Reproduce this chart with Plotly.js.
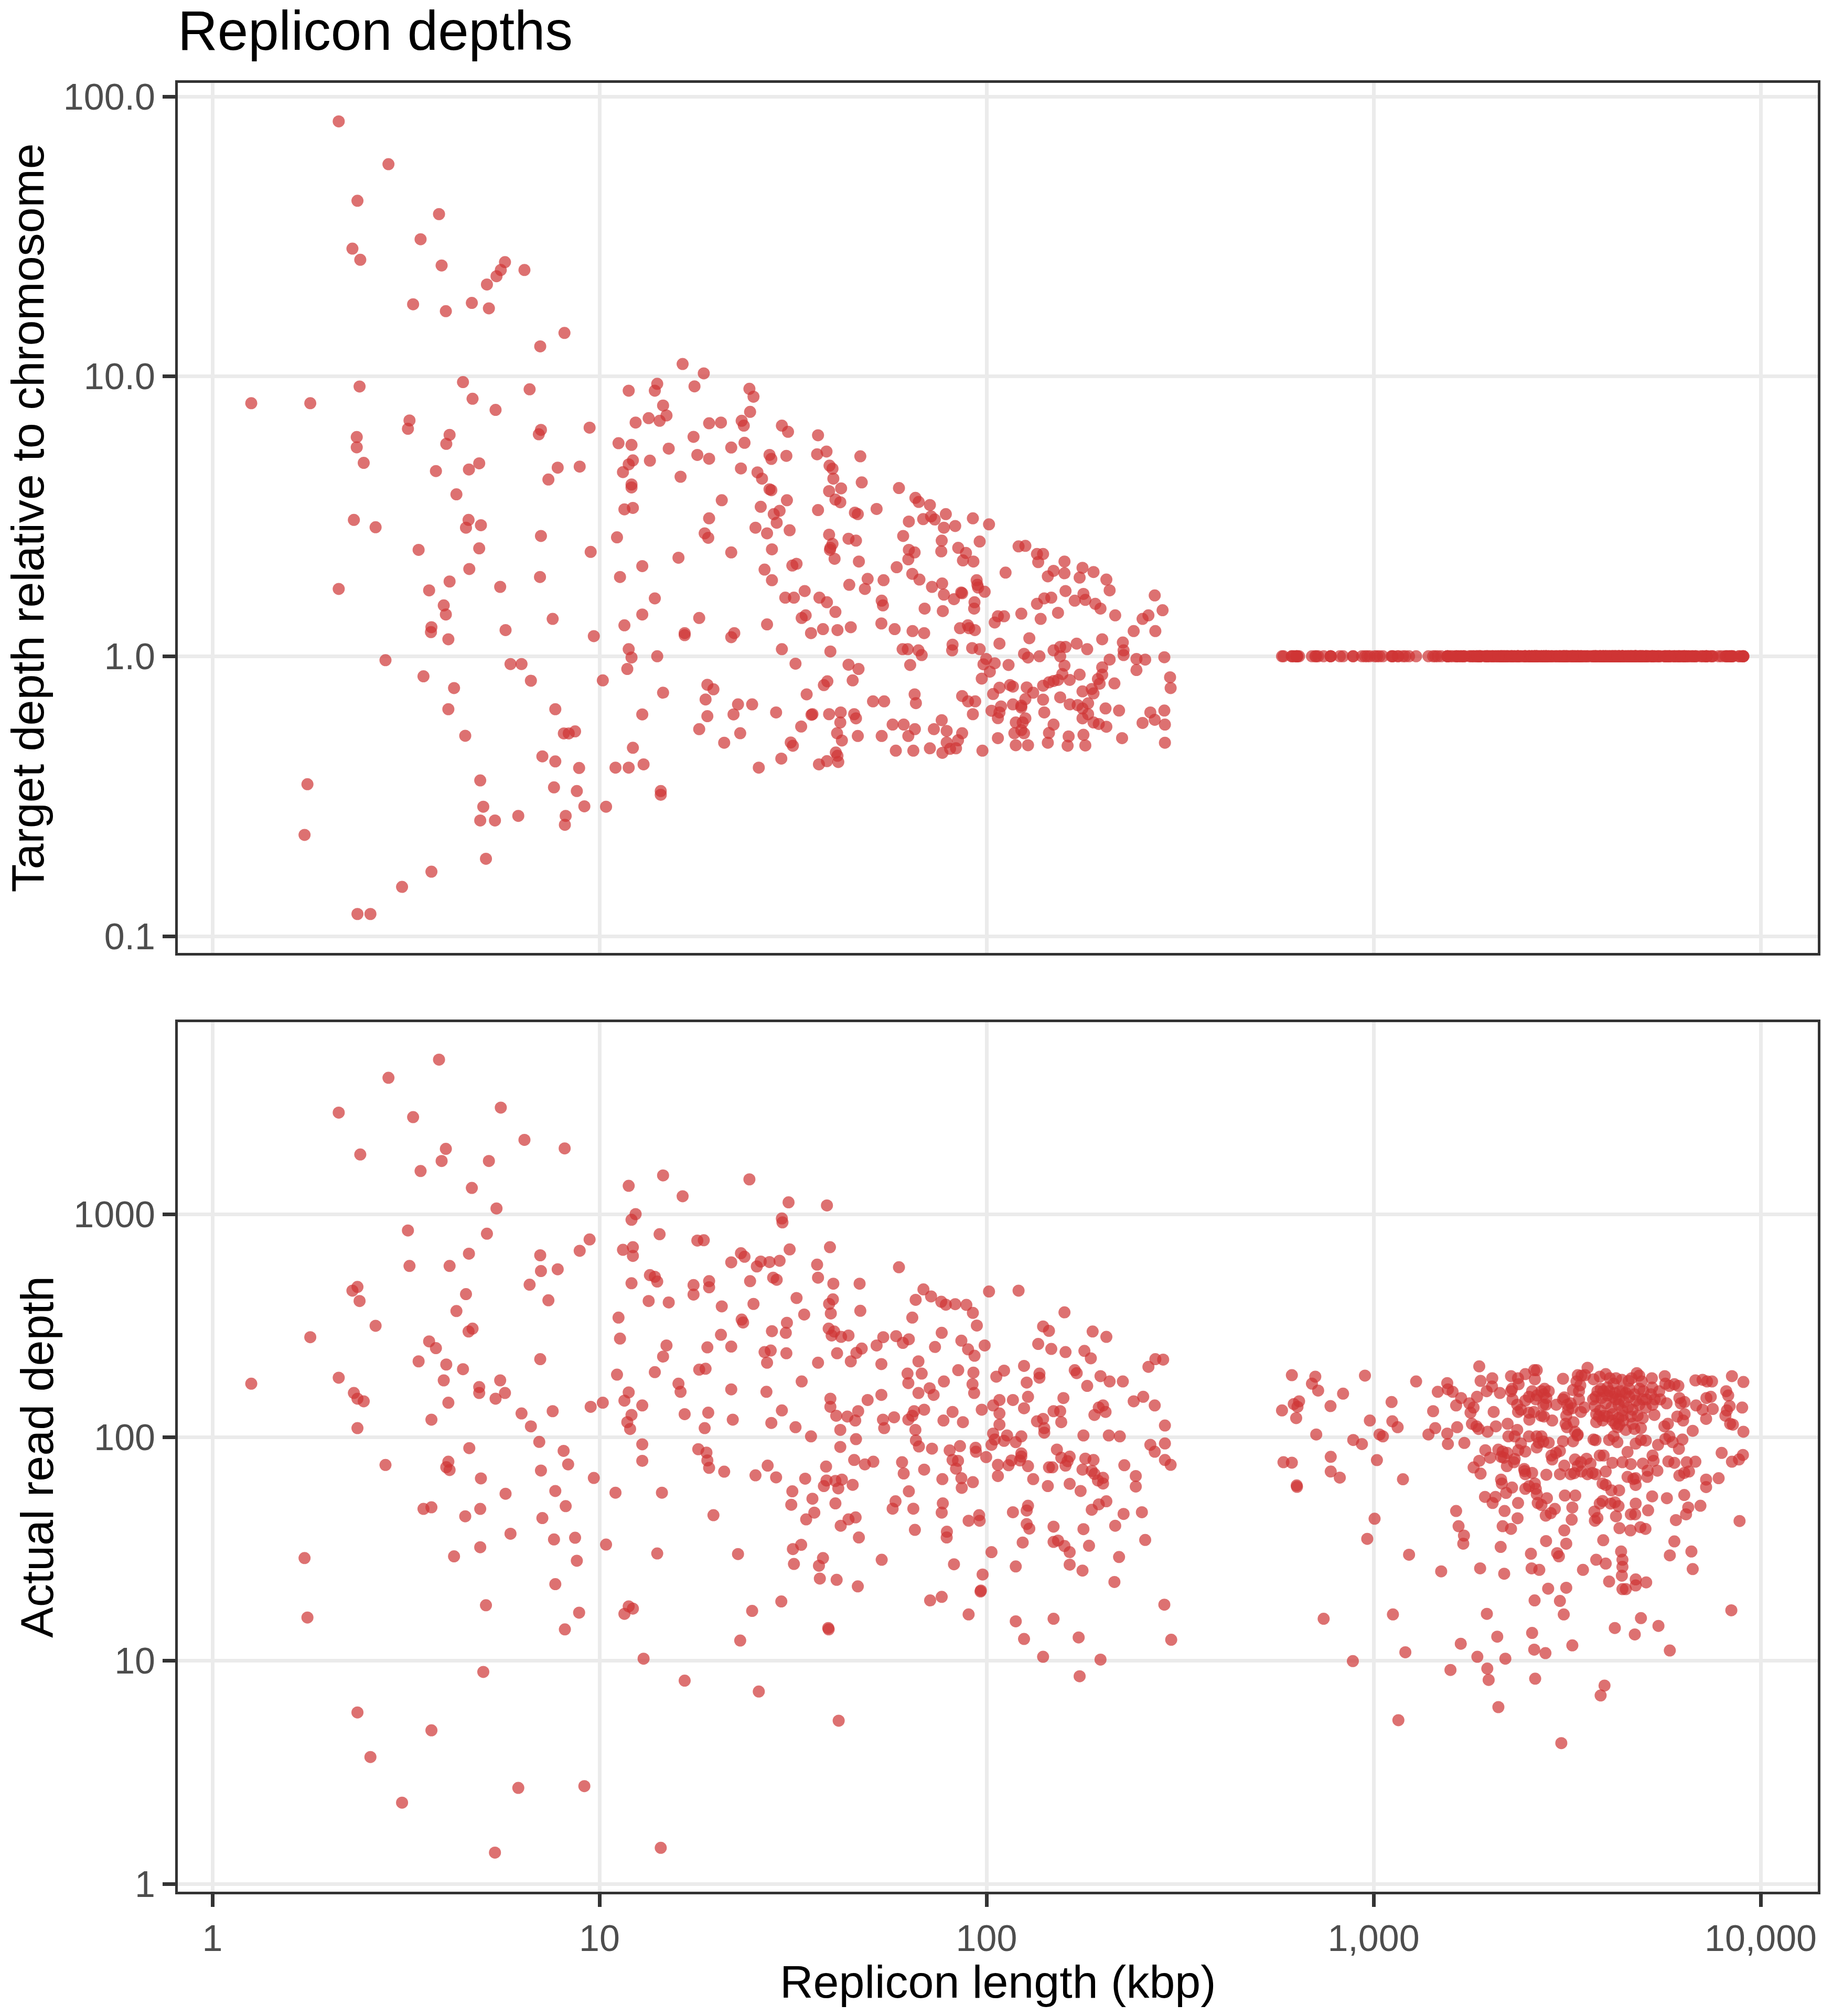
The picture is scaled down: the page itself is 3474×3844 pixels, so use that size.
<!DOCTYPE html>
<html>
<head>
<meta charset="utf-8">
<script src="https://cdn.plot.ly/plotly-3.0.1.min.js"></script>
<style>html,body{margin:0;padding:0;background:#fff;}</style>
</head>
<body>
<div id="chart"></div>
<script>
// ---------- DATA ----------
const chartTitle = "Replicon depths";
const xAxisTitle = "Replicon length (kbp)";
const relAxisTitle = "Target depth relative to chromosome";
const readAxisTitle = "Actual read depth";

const xTickVals = [1, 10, 100, 1000, 10000];
const xTickText = ["1", "10", "100", "1,000", "10,000"];
const relTickVals = [0.1, 1, 10, 100];
const relTickText = ["0.1", "1.0", "10.0", "100.0"];
const readTickVals = [1, 10, 100, 1000];
const readTickText = ["1", "10", "100", "1000"];

// Non-chromosome replicons: [length kbp, target depth relative to chromosome]
const plasmidRelDepth = [
[2.12,81.5],[2.85,57.3],[2.37,42.4],[3.85,38.0],[3.45,30.9],[2.30,28.6],[2.41,26.1],[3.91,24.9],[5.70,25.6],[5.56,24.0],
[5.42,22.8],[5.12,21.3],[6.40,24.0],[3.30,18.1],[4.01,17.1],[4.68,18.3],[5.18,17.5],[8.12,14.3],[7.03,12.8],[2.40,9.20],
[4.44,9.54],[6.60,8.99],[1.26,8.02],[1.79,8.02],[4.70,8.32],[5.39,7.59],[3.23,6.96],[3.20,6.50],[2.36,6.07],[2.36,5.58],
[2.46,4.91],[4.10,6.18],[4.02,5.74],[7.06,6.44],[6.97,6.21],[9.43,6.56],[3.78,4.59],[4.60,4.65],[4.89,4.89],[7.80,4.72],
[8.89,4.76],[7.38,4.28],[4.27,3.79],[2.32,3.07],[2.64,2.89],[4.59,3.07],[4.52,2.88],[4.94,2.94],[3.41,2.40],[4.89,2.43],
[7.06,2.69],[9.49,2.36],[4.61,2.05],[2.12,1.74],[3.63,1.72],[4.10,1.85],[5.54,1.77],[7.02,1.92],[3.96,1.52],[4.01,1.41],
[3.68,1.27],[3.67,1.22],[4.07,1.15],[5.72,1.24],[7.57,1.36],[9.67,1.18],[2.80,0.968],[3.51,0.848],[4.21,0.770],[4.07,0.647],
[4.50,0.520],[5.89,0.938],[6.29,0.938],[6.65,0.818],[7.69,0.647],[8.09,0.530],[8.33,0.530],[8.65,0.539],[7.12,0.439],[7.69,0.421],
[8.86,0.399],[7.63,0.340],[8.74,0.330],[9.14,0.291],[8.18,0.269],[8.14,0.250],[6.17,0.269],[4.92,0.360],[5.01,0.290],[4.92,0.259],
[5.37,0.259],[5.09,0.189],[1.76,0.349],[1.73,0.230],[3.68,0.170],[3.09,0.150],[2.37,0.120],[2.56,0.120],
[16.4,11.07],[18.6,10.25],[11.9,8.89],[14.1,9.41],[13.9,8.89],[17.6,9.21],[24.4,9.03],[25.0,8.46],[14.6,7.87],[14.9,7.25],
[14.3,6.94],[13.4,7.09],[12.4,6.84],[19.2,6.80],[20.6,6.84],[24.5,7.47],[23.3,6.94],[23.6,6.67],[29.6,6.67],[30.7,6.34],
[36.7,6.16],[17.5,6.08],[11.2,5.77],[12.1,5.69],[15.1,5.52],[21.9,5.57],[23.7,5.79],[17.9,5.24],[19.2,5.08],[13.5,5.00],
[12.2,5.01],[11.9,4.85],[11.5,4.55],[27.5,5.24],[27.8,5.07],[30.4,5.20],[36.5,5.27],[38.6,5.39],[47.2,5.18],[39.3,4.80],
[40.0,4.68],[23.2,4.69],[25.6,4.54],[26.3,4.31],[16.2,4.38],[12.1,4.11],[12.1,4.01],[40.2,4.31],[47.6,4.18],[39.2,3.89],
[42.1,3.98],[27.5,3.95],[27.8,3.92],[59.4,3.99],[65.5,3.68],[66.8,3.56],[71.4,3.47],[20.7,3.61],[30.5,3.61],[26.1,3.42],
[11.6,3.35],[12.2,3.39],[40.7,3.63],[41.9,3.55],[36.7,3.33],[29.2,3.31],[28.2,3.22],[19.2,3.11],[28.7,3.00],[31.0,2.82],
[25.3,2.88],[27.1,2.75],[45.7,3.26],[46.5,3.22],[52.0,3.36],[63.0,3.03],[68.6,3.09],[71.9,3.16],[73.5,3.08],[78.5,3.22],
[77.6,2.88],[83.0,2.92],[92.2,3.11],[101.5,2.96],[18.7,2.75],[19.1,2.65],[11.1,2.66],[39.2,2.72],[40.0,2.52],[39.5,2.44],
[39.4,2.40],[40.5,2.23],[44.0,2.63],[46.0,2.59],[46.8,2.18],[27.9,2.41],[21.9,2.35],[16.0,2.25],[12.9,2.10],[11.3,1.92],
[13.9,1.61],[12.9,1.41],[11.6,1.29],[18.1,1.37],[16.6,1.21],[16.6,1.19],[22.3,1.21],[21.9,1.17],[27.1,1.30],[26.7,2.04],
[27.9,1.87],[31.5,2.11],[32.3,2.14],[30.2,1.62],[31.8,1.62],[33.9,1.71],[37.0,1.62],[38.7,1.56],[40.7,1.44],[33.3,1.37],
[34.1,1.40],[35.2,1.21],[37.8,1.25],[41.2,1.24],[44.6,1.27],[29.6,1.06],[39.5,1.04],[44.2,1.80],[48.5,1.74],[49.3,1.89],
[54.2,1.87],[58.6,2.08],[63.0,2.40],[65.2,2.35],[62.8,2.22],[60.9,2.69],[64.3,1.97],[67.1,1.88],[76.6,2.59],[76.4,2.37],
[84.5,2.44],[88.5,2.34],[86.9,2.20],[92.5,2.18],[96.0,2.57],[72.3,1.77],[76.8,1.82],[77.6,1.66],[82.4,1.60],[86.0,1.69],
[86.5,1.68],[94.3,1.87],[94.7,1.80],[98.9,1.70],[95.1,1.76],[53.6,1.58],[54.0,1.52],[69.2,1.48],[77.1,1.45],[93.1,1.56],
[92.9,1.48],[53.5,1.31],[57.9,1.25],[64.4,1.23],[69.0,1.21],[85.4,1.26],[89.5,1.29],[90.2,1.26],[93.3,1.24],[60.7,1.06],
[62.6,1.06],[66.7,1.05],[68.0,1.01],[81.7,1.10],[81.5,1.05],[91.8,1.07],[96.0,1.06],[63.5,0.931],[32.1,0.941],[44.0,0.933],
[46.7,0.901],[45.1,0.820],[38.8,0.814],[38.0,0.789],[34.3,0.731],[14.1,1.00],[11.9,1.06],[12.1,0.99],[11.8,0.901],[10.2,0.820],
[14.6,0.741],[19.0,0.791],[19.7,0.762],[18.8,0.701],[19.0,0.611],[18.1,0.549],[22.8,0.673],[24.8,0.673],[22.2,0.620],[23.1,0.531],
[21.0,0.491],[12.9,0.620],[12.2,0.471],[11.0,0.400],[11.9,0.400],[13.0,0.411],[25.8,0.400],[29.5,0.431],[14.4,0.330],[14.4,0.320],
[10.4,0.290],[28.6,0.630],[33.2,0.561],[31.2,0.492],[31.6,0.479],[35.5,0.621],[35.3,0.618],[39.2,0.621],[42.0,0.630],[41.9,0.580],
[45.5,0.621],[46.0,0.600],[41.1,0.531],[42.3,0.500],[46.5,0.519],[40.8,0.453],[41.2,0.441],[41.4,0.419],[38.7,0.422],[36.9,0.411],
[50.9,0.690],[54.4,0.690],[65.2,0.731],[65.7,0.680],[57.2,0.570],[61.1,0.570],[65.3,0.549],[62.8,0.519],[53.6,0.519],[58.3,0.460],
[64.7,0.460],[71.4,0.469],[73.1,0.549],[76.6,0.591],[78.9,0.541],[86.5,0.531],[84.4,0.501],[78.9,0.492],[80.5,0.467],[83.4,0.469],
[76.9,0.452],[97.6,0.460],[86.5,0.721],[89.6,0.690],[93.5,0.690],[92.2,0.621],[99.8,0.978],
[121,2.47],[126,2.48],[135,2.32],[140,2.32],[136,2.17],[159,2.18],[149,2.02],[144,1.93],[159,1.98],[177,2.07],
[189,2.00],[174,1.91],[204,1.88],[208,1.72],[160,1.71],[112,1.99],[178,1.67],[180,1.59],[169,1.58],[147,1.62],
[141,1.61],[135,1.54],[191,1.54],[197,1.48],[153,1.43],[123,1.42],[111,1.39],[107,1.39],[105,1.32],[138,1.36],
[215,1.40],[272,1.65],[285,1.46],[262,1.40],[253,1.36],[240,1.23],[273,1.23],[199,1.15],[225,1.12],[226,1.05],
[226,1.01],[129,1.16],[108,1.11],[149,1.05],[155,1.08],[160,1.08],[171,1.11],[182,1.06],[125,1.02],[128,0.99],
[137,1.00],[155,1.00],[159,0.926],[114,0.931],[105,0.944],[98.2,0.936],[102,0.881],[97.2,0.832],[108,0.772],[104,0.733],
[115,0.789],[117,0.779],[117,0.673],[123,0.666],[126,0.703],[127,0.774],[132,0.741],[140,0.785],[145,0.807],[149,0.816],
[153,0.823],[157,0.864],[164,0.823],[174,0.860],[199,0.913],[208,0.973],[199,0.860],[194,0.829],[196,0.798],[214,0.800],
[187,0.764],[177,0.749],[189,0.737],[155,0.713],[140,0.700],[244,0.978],[257,0.973],[244,0.893],[288,0.992],[298,0.841],
[299,0.770],[288,0.640],[265,0.630],[272,0.593],[253,0.578],[289,0.570],[289,0.491],[224,0.510],[220,0.640],[203,0.651],
[183,0.679],[177,0.651],[172,0.669],[164,0.673],[141,0.630],[123,0.656],[109,0.662],[103,0.639],[108,0.630],[107,0.601],
[119,0.580],[124,0.580],[126,0.600],[123,0.545],[118,0.531],[125,0.531],[107,0.510],[119,0.481],[128,0.481],[145,0.532],
[149,0.570],[144,0.491],[163,0.517],[162,0.479],[178,0.524],[180,0.480],[183,0.621],[177,0.600],[189,0.580],[195,0.573],
[204,0.560]
];

// Non-chromosome replicons: [length kbp, actual read depth]
const plasmidReadDepth = [
[3.85,4920],[2.85,4080],[2.12,2850],[3.30,2720],[5.56,3000],[6.40,2150],[8.13,1970],[2.41,1850],[4.01,1960],[3.91,1730],
[3.45,1560],[5.18,1730],[4.68,1310],[5.42,1060],[3.20,845],[5.12,817],[4.60,665],[3.23,586],[4.10,586],[7.03,654],
[7.06,556],[7.80,566],[8.89,685],[9.43,770],[6.60,483],[7.38,411],[2.37,472],[2.30,454],[2.40,408],[4.52,438],
[4.27,368],[2.64,316],[1.79,281],[4.59,298],[4.70,307],[3.63,269],[3.78,251],[3.41,219],[4.02,212],[4.44,202],
[7.03,224],[2.12,185],[1.26,174],[3.96,180],[4.89,168],[4.89,158],[5.54,180],[5.70,158],[5.39,149],[2.32,158],
[2.37,149],[2.46,145],[4.07,143],[3.68,120],[2.37,110],[6.29,128],[6.65,112],[7.57,131],[9.49,137],[6.99,95.4],
[4.61,89.5],[2.80,75.2],[4.07,77.8],[4.02,73.5],[4.10,71.4],[4.94,65.5],[7.06,71.0],[8.08,87.0],[8.30,75.7],[9.67,65.8],
[5.72,55.9],[7.69,57.5],[8.18,49.2],[3.51,47.8],[3.68,48.6],[4.50,44.3],[4.92,47.8],[7.12,43.5],[5.89,37.0],[7.63,34.9],
[8.65,35.5],[8.74,28.0],[4.21,29.3],[4.92,32.2],[1.73,28.8],[7.69,22.0],[1.76,15.6],[5.09,17.7],[8.86,16.4],[8.14,13.8],
[5.01,8.90],[2.37,5.86],[3.68,4.87],[2.56,3.70],[3.09,2.31],[6.17,2.69],[9.14,2.74],[5.37,1.38],
[11.9,1339],[14.6,1491],[16.4,1202],[24.4,1431],[12.4,1000],[12.1,943],[30.8,1129],[38.7,1094],[29.6,956],[29.7,918],
[14.3,813],[17.9,761],[18.6,764],[12.2,711],[11.5,692],[12.2,650],[39.4,711],[31.0,695],[23.2,668],[23.7,644],
[21.9,608],[25.5,583],[26.1,613],[27.5,610],[29.2,618],[36.5,594],[36.7,519],[59.4,578],[24.5,501],[28.1,519],
[28.7,508],[40.2,488],[47.0,488],[12.1,490],[13.5,533],[13.9,524],[14.1,499],[17.5,481],[19.2,501],[19.2,470],
[17.5,436],[13.4,408],[15.1,402],[20.7,386],[25.0,396],[32.3,421],[39.2,396],[40.1,415],[39.6,359],[33.8,355],
[47.2,369],[11.2,344],[11.3,277],[23.3,337],[23.5,327],[30.5,326],[30.3,294],[27.9,299],[20.6,288],[21.9,255],
[19.0,253],[14.9,258],[14.6,230],[13.9,196],[11.1,191],[18.1,201],[18.8,203],[26.7,241],[27.7,245],[27.1,216],
[30.4,238],[36.7,216],[39.1,307],[40.4,298],[39.8,286],[42.1,282],[44.0,286],[41.1,238],[44.6,219],[46.1,239],
[47.6,250],[52.0,258],[54.1,281],[58.4,284],[60.8,265],[63.0,275],[53.5,213],[64.3,344],[65.6,413],[68.7,460],
[71.9,428],[76.4,405],[78.5,393],[83.0,395],[88.7,392],[92.2,361],[94.4,317],[101.5,450],[121,454],[76.6,294],
[73.6,254],[86.1,271],[89.6,248],[93.1,232],[98.9,258],[66.7,219],[62.5,193],[62.8,175],[68.0,193],[66.7,158],
[71.3,166],[73.0,155],[77.6,178],[84.5,200],[92.5,195],[92.0,173],[92.9,158],[97.2,133],[81.7,130],[77.4,119],
[86.9,117],[69.0,133],[65.0,131],[64.3,125],[62.8,120],[65.5,108],[65.7,96.9],[66.9,91.0],[72.3,89.0],[80.3,87.4],
[85.4,91.4],[93.7,89.8],[93.9,86.2],[99.8,81.6],[81.7,79.2],[84.4,78.5],[83.4,72.4],[86.1,65.6],[86.3,59.4],[92.2,63.0],
[76.9,65.0],[69.0,71.7],[60.5,77.4],[61.1,68.9],[63.0,57.3],[77.1,50.6],[76.6,46.0],[58.2,51.7],[57.2,47.9],[64.7,47.9],
[65.3,38.5],[79.0,37.8],[78.9,35.6],[89.9,42.3],[95.7,44.8],[96.0,42.3],[82.4,27.0],[103,30.6],[97.7,24.3],[96.7,20.6],
[96.5,20.4],[71.5,18.6],[76.6,19.3],[89.9,16.1],[53.6,28.3],[46.8,35.6],[46.5,21.5],[41.0,23.0],[37.1,23.3],[36.9,26.6],
[37.8,28.8],[31.8,27.1],[31.6,31.6],[33.2,33.0],[29.5,18.4],[39.0,14.0],[39.1,13.8],[24.8,16.7],[23.1,12.3],[22.8,30.0],
[14.1,30.2],[10.4,33.1],[11.6,16.2],[11.9,17.5],[12.2,17.1],[13.0,10.2],[16.6,8.13],[25.8,7.27],[41.5,5.38],[119,26.4],
[119,15.0],[125,12.5],[140,10.4],[149,15.4],[173,12.7],[174,8.51],[197,10.1],[214,22.5],[288,17.8],[300,12.4],
[164,26.9],[177,25.3],[164,30.6],[159,32.6],[153,34.5],[149,34.0],[149,39.8],[184,32.7],[178,38.8],[215,40.2],
[257,34.7],[220,29.1],[124,33.8],[129,39.0],[127,40.9],[128,49.4],[127,47.0],[117,46.2],[187,47.4],[195,50.1],
[204,51.7],[226,45.4],[252,46.2],[175,57.5],[164,61.9],[177,71.7],[187,70.8],[190,68.6],[194,64.1],[200,62.1],
[200,65.9],[189,79.2],[180,80.3],[164,82.0],[162,78.2],[160,74.7],[152,88.2],[156,81.0],[145,73.4],[148,73.4],
[144,60.5],[132,65.0],[128,74.3],[122,78.8],[123,82.0],[123,84.7],[119,95.2],[113,102],[116,78.8],[114,75.0],
[107,75.3],[107,67.1],[111,96.5],[105,97.8],[103,92.6],[104,104],[108,114],[108,128],[104,139],[108,147],
[117,147],[125,135],[128,152],[135,118],[140,121],[141,110],[141,105],[123,101],[149,131],[155,131],
[156,117],[158,150],[178,102],[190,126],[195,136],[200,139],[203,130],[207,102],[221,101],[227,75.0],
[243,67.1],[243,60.2],[265,92.6],[272,86.2],[289,93.9],[289,79.2],[299,75.3],[289,113],[272,139],[254,152],
[240,145],[225,178],[208,178],[197,188],[182,170],[171,194],[169,200],[186,226],[179,244],[160,241],
[147,249],[136,262],[137,193],[137,185],[125,209],[127,176],[111,199],[106,187],[140,314],[145,300],
[159,363],[188,298],[204,282],[262,207],[273,224],[286,223],[12.9,93.1],[12.9,78.5],[11.9,159],[11.6,146],
[12.1,126],[11.8,117],[12.0,109],[12.9,139],[16.0,174],[16.2,160],[16.6,127],[19.1,129],[18.7,110],[22.1,120],
[21.9,164],[27.0,160],[27.8,116],[29.6,132],[32.1,111],[35.2,101],[33.3,178],[39.5,149],[39.5,137],[40.9,125],
[43.7,124],[45.8,119],[46.6,131],[41.9,108],[46.0,98.2],[41.9,90.6],[45.5,79.2],[48.5,75.7],[51.0,77.8],[49.3,147],
[53.5,155],[54.0,120],[54.4,110],[57.7,123],[18.0,88.5],[18.9,85.5],[19.0,78.8],[19.2,73.0],[21.0,70.2],[25.3,67.6],
[27.2,74.7],[28.6,66.2],[31.5,57.3],[31.3,49.9],[34.0,65.3],[35.5,53.1],[34.2,42.9],[35.9,46.0],[38.5,74.0],[38.0,60.5],
[38.6,64.1],[40.7,63.8],[42.3,64.7],[41.4,59.1],[45.1,61.3],[40.7,50.6],[44.0,42.9],[45.9,43.8],[42.0,40.2],[19.7,44.8],
[14.5,56.5],[11.0,56.5],[10.2,143],[14.4,1.45]
];

// Chromosomes: length (kbp) and actual read depth
const chromLength = [
615,707,693,719,834,950,642,622,636,580,
631,774,711,886,933,978,1113,1118,1154,1036,
1057,1288,585,615,775,775,818,1020,633,634,
1191,1006,963,743,1122,884,1235,1208,1159,1875,
1890,2026,2265,2361,2466,2600,2640,2610,2370,2279,
2023,1960,1850,2120,2265,2285,2350,2403,2362,2466,
2521,2643,2715,2745,2765,2835,2795,2625,2568,2755,
2894,2755,2595,2521,2526,2710,2790,2965,3086,3086,
3110,3168,3230,3370,3445,3518,3571,3344,3420,3394,
3275,3394,3504,3433,3262,3180,3146,3134,3285,3159,
3314,3368,3700,3840,3979,4078,4230,4170,4380,4560,
4640,4788,4857,4929,5235,5245,5653,5673,5810,5985,
6131,6783,7080,7270,7490,8430,9025,3787,3920,4060,
4200,4327,4484,3880,4020,4150,4309,4440,4580,4720,
4867,4980,5062,5325,5505,5715,6166,6220,6360,7243,
7434,8147,8245,8318,8960,3730,3850,3979,4115,4295,
4395,4540,4667,4857,5051,3760,3940,4141,4295,4420,
4630,4810,4960,3760,3905,4210,4309,4484,4720,4906,
5315,5640,5760,6090,6305,6360,6676,6810,7080,7523,
7230,8110,8180,8340,8479,9025,1386,1443,1550,1556,
1644,1716,1600,1683,1634,1465,1550,1425,1556,1767,
1780,1813,1795,1845,1868,1970,2070,2043,2220,2230,
2350,2315,2403,2521,2638,2715,2673,2745,2640,2835,
3086,3275,3360,3700,3745,4060,4170,4265,4530,4755,
4906,5051,5433,5673,5810,6150,5924,6280,1944,2000,
2100,2155,2215,2135,2365,2466,2315,2170,1875,1813,
1890,2210,2305,2450,2466,2568,2795,2880,2894,2960,
3030,3110,3314,3368,3300,3433,3550,3635,3675,3840,
3930,3979,4141,4395,4620,4755,4960,5107,5257,5290,
5095,5410,5775,5985,6166,6348,6530,6440,6783,7930,
8430,8790,9000,7790,7230,7230,3905,3979,4115,4309,
4530,4690,4755,2135,2145,2279,2455,2610,2625,2640,
3030,3230,3445,3570,3745,2521,2466,2200,1940,2030,
2065,2362,2180,2355,2155,2265,1634,1658,1712,1705,
2130,2655,2715,2805,2940,2785,2870,3120,3320,3262,
3250,3110,2790,3146,3720,3787,3730,3840,3905,4095,
4200,4295,4230,4318,4610,4755,4740,4620,5040,4890,
5120,5245,5725,6348,6500,6416,6040,6990,8821,3920,
4360,4395,4395,4380,3760,3979,4060,4395,4484,4755,
4755,5062,5985,5826,6624,6676,2980,3012,2550,2560,
2680,3475,2175,1885,1495,2825,3146,2606,3030,3100,
1962,2087,2568,2600,2780,3262,4200,4906,5445,4730,
5826,8400,1680,1854,2190,1967,1983,1580,2615,3950,
3860,2101,3055,3748,3863,4020,4225,4396,4141,4020,
4396,4667,4760,4953,4267,3824,3690,4575,5206,5470,
5257
];
const chromReadDepth = [
190,187,174,162,157,189,145,141,137,132,
122,138,103,97.3,93.3,119,144,118,111,103,
101,178,77.4,77.0,81.8,70.3,66.0,79.1,60.9,60.0,
64.9,43.2,35.1,15.4,16.1,9.95,29.8,10.9,5.41,208,
179,184,188,184,192,200,200,182,173,165,
169,161,152,158,161,148,140,133,130,146,
152,154,161,140,165,161,150,148,161,156,
119,124,130,129,120,125,140,140,183,148,
151,140,142,190,189,190,205,178,171,161,
163,148,136,130,135,133,125,115,117,111,
106,103,182,187,192,184,184,174,181,179,
184,194,189,178,184,167,188,174,170,173,
170,180,181,178,178,188,177,161,161,161,
158,161,158,150,154,152,148,144,152,156,
165,161,148,148,148,142,150,142,144,150,
152,161,154,138,136,138,132,142,136,140,
132,136,133,140,136,127,125,127,122,119,
124,125,122,117,119,115,114,108,109,110,
126,112,115,124,119,127,107,139,133,134,
121,125,132,115,114,106,103,110,104,93.4,
111,94.4,160,150,139,160,175,131,164,142,
129,136,115,112,109,106,112,130,115,101,
108,101,93.9,101,101,101,94.6,95.7,90.1,94.6,
96.0,96.0,102,97.8,97.1,97.3,101,95.2,86.0,93.8,
97.3,96.8,92.6,98.4,101,88.8,95.2,97.8,87.6,81.1,
88.1,86.4,85.2,81.8,87.6,86.4,80.0,81.1,78.5,73.3,
68.8,74.3,77.4,72.2,68.4,69.3,68.0,82.9,79.6,85.2,
86.9,74.7,79.6,74.3,69.1,77.4,80.2,76.3,69.3,82.9,
82.9,70.3,76.9,77.4,75.9,65.6,76.3,70.9,82.9,78.5,
66.5,70.9,78.0,76.9,67.4,69.3,70.3,77.4,77.8,85.2,
77.8,79.6,83.4,65.6,64.7,59.9,62.1,61.2,57.9,57.9,
66.5,65.1,61.2,64.7,62.1,59.6,70.7,62.1,58.8,55.6,
68.4,68.4,70.3,68.4,68.4,60.4,58.8,56.4,54.1,50.8,
54.1,50.8,46.8,43.4,40.0,38.9,46.8,40.0,36.3,33.4,
32.3,50.8,49.8,53.4,47.8,44.6,45.8,54.9,54.9,48.5,
42.8,38.3,34.3,33.4,46.5,43.5,42.3,50.5,51.9,50.5,
51.2,49.2,44.3,39.2,38.3,50.5,45.2,45.2,38.9,39.6,
47.1,54.4,53.4,55.2,48.5,45.2,42.6,49.4,42.2,34.6,
30.8,28.3,26.3,24.0,28.3,27.2,22.6,20.9,20.9,23.1,
21.7,22.4,34.2,29.6,30.8,25.7,30.3,29.3,30.1,25.9,
25.5,25.5,24.5,25.9,25.1,21.0,21.2,18.6,18.5,16.1,
16.2,12.8,13.3,11.2,10.8,11.7,14.0,15.5,14.3,13.1,
11.1,16.8,11.9,10.4,10.2,9.21,8.19,9.08,8.30,7.73,
6.98,6.19,4.27,152,165,167,148,161,119,124,
125,115,146,148,111,124,148,165,156,161,
140
];
// Chromosome depth relative to itself (451 values)
const chromRelDepth = [
1,1,1,1,1,1,1,1,1,1, 1,1,1,1,1,1,1,1,1,1, 1,1,1,1,1,1,1,1,1,1, 1,1,1,1,1,1,1,1,1,1,
1,1,1,1,1,1,1,1,1,1, 1,1,1,1,1,1,1,1,1,1, 1,1,1,1,1,1,1,1,1,1, 1,1,1,1,1,1,1,1,1,1,
1,1,1,1,1,1,1,1,1,1, 1,1,1,1,1,1,1,1,1,1, 1,1,1,1,1,1,1,1,1,1, 1,1,1,1,1,1,1,1,1,1,
1,1,1,1,1,1,1,1,1,1, 1,1,1,1,1,1,1,1,1,1, 1,1,1,1,1,1,1,1,1,1, 1,1,1,1,1,1,1,1,1,1,
1,1,1,1,1,1,1,1,1,1, 1,1,1,1,1,1,1,1,1,1, 1,1,1,1,1,1,1,1,1,1, 1,1,1,1,1,1,1,1,1,1,
1,1,1,1,1,1,1,1,1,1, 1,1,1,1,1,1,1,1,1,1, 1,1,1,1,1,1,1,1,1,1, 1,1,1,1,1,1,1,1,1,1,
1,1,1,1,1,1,1,1,1,1, 1,1,1,1,1,1,1,1,1,1, 1,1,1,1,1,1,1,1,1,1, 1,1,1,1,1,1,1,1,1,1,
1,1,1,1,1,1,1,1,1,1, 1,1,1,1,1,1,1,1,1,1, 1,1,1,1,1,1,1,1,1,1, 1,1,1,1,1,1,1,1,1,1,
1,1,1,1,1,1,1,1,1,1, 1,1,1,1,1,1,1,1,1,1, 1,1,1,1,1,1,1,1,1,1, 1,1,1,1,1,1,1,1,1,1,
1,1,1,1,1,1,1,1,1,1, 1,1,1,1,1,1,1,1,1,1, 1,1,1,1,1,1,1,1,1,1, 1,1,1,1,1,1,1,1,1,1,
1,1,1,1,1,1,1,1,1,1, 1,1,1,1,1,1,1,1,1,1, 1,1,1,1,1,1,1,1,1,1,
1,1,1,1,1,1,1,1,1,1, 1,1,1,1,1,1,1,1,1,1, 1
];

// ---------- STYLE / LAYOUT ----------
const W = 3474, H = 3844;
const L = 339, R = 3466, T = 158, B = 3607;
const PW = R - L, PH = B - T;
const topPanelBottom = 1817, botPanelTop = 1949;
const px2x = p => (p - L) / PW;
const py2y = p => (B - p) / PH;

const pointColor = 'rgb(207,53,53)';
const FONT = 'Liberation Sans, Arial, Helvetica, sans-serif';

function axisStyle(extra) {
  return Object.assign({
    showgrid: true, gridcolor: '#ebebeb', gridwidth: 7,
    zeroline: false, showline: true, linecolor: '#333333', linewidth: 5, mirror: true,
    ticks: 'outside', ticklen: 24, tickwidth: 7, tickcolor: '#333333',
    tickfont: { family: FONT, size: 70, color: '#4d4d4d' },
    tickmode: 'array', showspikes: false, fixedrange: true
  }, extra);
}

function marker() {
  return { size: 23, color: pointColor, opacity: 0.7, line: { width: 0 } };
}

const traces = [
  { type: 'scatter', mode: 'markers', xaxis: 'x2', yaxis: 'y',
    x: plasmidRelDepth.map(p => p[0]), y: plasmidRelDepth.map(p => p[1]), marker: marker(), hoverinfo: 'skip' },
  { type: 'scatter', mode: 'markers', xaxis: 'x2', yaxis: 'y',
    x: chromLength, y: chromRelDepth, marker: marker(), hoverinfo: 'skip' },
  { type: 'scatter', mode: 'markers', xaxis: 'x', yaxis: 'y2',
    x: plasmidReadDepth.map(p => p[0]), y: plasmidReadDepth.map(p => p[1]), marker: marker(), hoverinfo: 'skip' },
  { type: 'scatter', mode: 'markers', xaxis: 'x', yaxis: 'y2',
    x: chromLength, y: chromReadDepth, marker: marker(), hoverinfo: 'skip' }
];

const xRange = [-(405 - L) / 738, (R - 405) / 738];

const layout = {
  width: W, height: H,
  margin: { l: L, r: W - R, t: T, b: H - B, pad: 0 },
  paper_bgcolor: '#ffffff', plot_bgcolor: '#ffffff',
  showlegend: false,
  font: { family: FONT, color: '#000000' },
  title: { text: chartTitle, font: { family: FONT, size: 105, color: '#000000' },
           xref: 'container', yref: 'container', x: L / W, xanchor: 'left',
           y: 1 - 58 / H, yanchor: 'middle', pad: { t: 0, b: 0, l: 0, r: 0 } },
  xaxis: axisStyle({ type: 'log', range: xRange, anchor: 'y2', domain: [0, 1],
                     tickvals: xTickVals, ticktext: xTickText }),
  xaxis2: axisStyle({ type: 'log', range: xRange, anchor: 'y', domain: [0, 1],
                      tickvals: xTickVals, ticktext: xTickText, ticks: '', showticklabels: false }),
  yaxis: axisStyle({ type: 'log', anchor: 'x2', domain: [py2y(topPanelBottom), 1],
                     range: [-1 - (topPanelBottom - 1785) / 533.7, 2 + (184 - T) / 533.7],
                     tickvals: relTickVals, ticktext: relTickText }),
  yaxis2: axisStyle({ type: 'log', anchor: 'x', domain: [0, py2y(botPanelTop)],
                      range: [-(B - 3592) / 425.67, 3 + (2315 - botPanelTop) / 425.67],
                      tickvals: readTickVals, ticktext: readTickText }),
  annotations: [
    { text: xAxisTitle, xref: 'paper', yref: 'paper', x: 0.5, y: py2y(3778),
      xanchor: 'center', yanchor: 'middle', showarrow: false,
      font: { family: FONT, size: 88, color: '#000000' } },
    { text: relAxisTitle, xref: 'paper', yref: 'paper', x: px2x(52), y: py2y((T + topPanelBottom) / 2),
      xanchor: 'center', yanchor: 'middle', showarrow: false, textangle: -90,
      font: { family: FONT, size: 88, color: '#000000' } },
    { text: readAxisTitle, xref: 'paper', yref: 'paper', x: px2x(70), y: py2y((botPanelTop + B) / 2),
      xanchor: 'center', yanchor: 'middle', showarrow: false, textangle: -90,
      font: { family: FONT, size: 88, color: '#000000' } }
  ]
};

Plotly.newPlot('chart', traces, layout, { staticPlot: true, displayModeBar: false });
</script>
</body>
</html>
